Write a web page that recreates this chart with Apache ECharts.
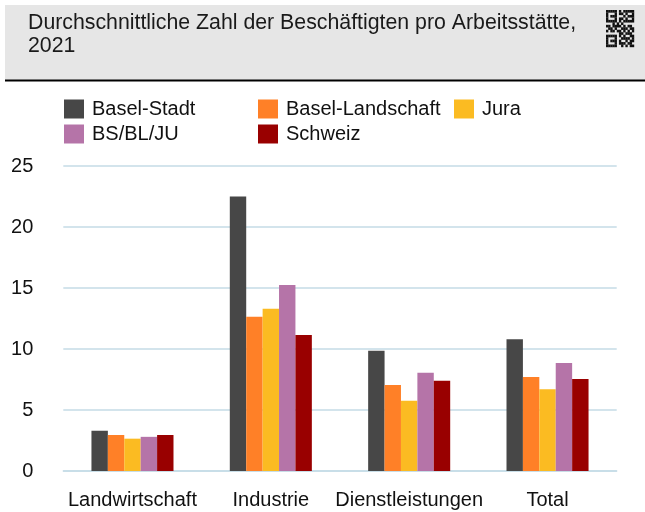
<!DOCTYPE html>
<html>
<head>
<meta charset="utf-8">
<script src="https://cdn.jsdelivr.net/npm/echarts@6/dist/echarts.min.js"></script>
<style>
html,body{margin:0;padding:0;background:#fff;}
#chart{width:645px;height:512px;}
</style>
</head>
<body>
<div id="chart"></div>
<script>
const titleLines = ['Durchschnittliche Zahl der Beschäftigten pro Arbeitsstätte,', '2021'];
const categories = ['Landwirtschaft', 'Industrie', 'Dienstleistungen', 'Total'];
const seriesNames = ['Basel-Stadt', 'Basel-Landschaft', 'Jura', 'BS/BL/JU', 'Schweiz'];
const baselStadt = [3.3, 22.5, 9.85, 10.8];
const baselLandschaft = [2.95, 12.65, 7.05, 7.7];
const jura = [2.65, 13.3, 5.75, 6.7];
const bsblju = [2.8, 15.25, 8.05, 8.85];
const schweiz = [2.95, 11.15, 7.4, 7.55];
const yTicks = [0, 5, 10, 15, 20, 25];

const colors = ['#474747', '#ff8027', '#fbbb22', '#b574a8', '#990000'];
const values = [baselStadt, baselLandschaft, jura, bsblju, schweiz];
const FONT = '"Liberation Sans", Arial, sans-serif';

// Decorative QR-like code pattern (1 = dark module)
const qr = [
  '1111101011111',
  '1000101101001',
  '1011100010111',
  '1000101101001',
  '1111101011111',
  '0001010100000',
  '1101111010110',
  '0110100111011',
  '1011011010101',
  '0000001101110',
  '1111101010011',
  '1000100111101',
  '1011101001011',
  '1000101110110',
  '1111100101011'
];
const qrGraphics = [];
const qx = 606, qy = 10, mw = 28 / 13, mh = 37 / 15;
qr.forEach((row, r) => {
  for (let c = 0; c < row.length; c++) {
    if (row[c] === '1') {
      qrGraphics.push({type: 'rect', shape: {x: qx + c * mw, y: qy + r * mh, width: mw + 0.2, height: mh + 0.2}, style: {fill: '#111'}});
    }
  }
});

const legendPos = [
  {left: 64, top: 99},
  {left: 258, top: 99},
  {left: 454, top: 99},
  {left: 64, top: 124},
  {left: 258, top: 124}
];

const chart = echarts.init(document.getElementById('chart'), null, {renderer: 'canvas'});
chart.setOption({
  animation: false,
  textStyle: {fontFamily: FONT},
  graphic: [
    {type: 'rect', shape: {x: 5, y: 5, width: 640, height: 75}, style: {fill: '#e6e6e6'}},
    {type: 'rect', shape: {x: 5, y: 79.5, width: 640, height: 2}, style: {fill: '#000'}},
    {type: 'text', left: 28, top: 12, style: {text: titleLines.join('\n'), font: '21.3px ' + FONT, fill: '#1a1a1a', lineHeight: 23}},
    ...qrGraphics
  ],
  legend: seriesNames.map((n, i) => ({
    data: [n],
    left: legendPos[i].left,
    top: legendPos[i].top,
    padding: 0,
    itemWidth: 20,
    itemHeight: 19,
    itemGap: 0,
    selectedMode: false,
    icon: 'rect',
    textStyle: {fontSize: 20, color: '#111', fontFamily: FONT, padding: [0, 0, 0, 3]}
  })),
  grid: {left: 63.3, right: 28.3, top: 166, bottom: 41, containLabel: false},
  xAxis: {
    type: 'category',
    data: categories,
    axisLine: {lineStyle: {color: '#c5dbe6', width: 1.5}},
    axisTick: {show: false},
    axisLabel: {fontSize: 20, color: '#111', margin: 19, interval: 0, fontFamily: FONT}
  },
  yAxis: {
    type: 'value',
    min: yTicks[0],
    max: yTicks[yTicks.length - 1],
    interval: 5,
    axisLine: {show: false},
    axisTick: {show: false},
    splitLine: {lineStyle: {color: '#c5dbe6', width: 1.5}},
    axisLabel: {fontSize: 20, color: '#111', margin: 30, fontFamily: FONT}
  },
  series: seriesNames.map((n, i) => ({
    name: n,
    type: 'bar',
    data: values[i],
    itemStyle: {color: colors[i]},
    barGap: '0%',
    barCategoryGap: '40.7%'
  }))
});
</script>
</body>
</html>
